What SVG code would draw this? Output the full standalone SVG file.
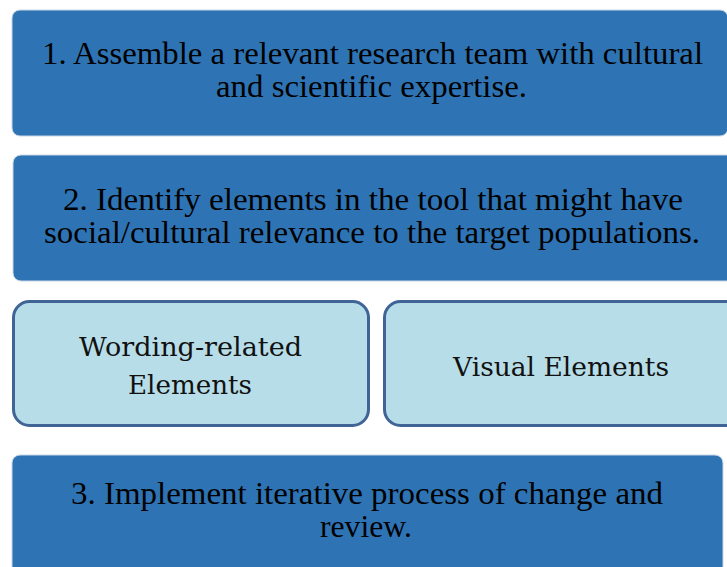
<svg xmlns="http://www.w3.org/2000/svg" width="727" height="567" viewBox="0 0 727 567">
<style>
.dark{fill:#2E74B5;stroke:#C9D6E4;stroke-width:1}
.light{fill:#B7DDE8;stroke:#3F6495;stroke-width:3}
.t1{font-family:"Liberation Serif","Times New Roman",serif;font-size:31px;fill:#000;text-anchor:middle}
.t2{font-family:"DejaVu Serif",serif;font-size:26px;fill:#111;text-anchor:middle}
</style>
<rect width="727" height="567" fill="#fff"/>
<g id="step1">
<rect class="dark" x="12" y="10" width="716" height="126" rx="8"/>
<text class="t1" x="372.5" y="64" textLength="661" lengthAdjust="spacingAndGlyphs">1. Assemble a relevant research team with cultural</text>
<text class="t1" x="371.5" y="97" textLength="311" lengthAdjust="spacingAndGlyphs">and scientific expertise.</text>
</g>
<g id="step2">
<rect class="dark" x="13" y="155" width="730" height="126" rx="8"/>
<text class="t1" x="373" y="210" textLength="620" lengthAdjust="spacingAndGlyphs">2. Identify elements in the tool that might have</text>
<text class="t1" x="372" y="243" textLength="656" lengthAdjust="spacingAndGlyphs">social/cultural relevance to the target populations.</text>
</g>
<g id="wording">
<rect class="light" x="13.5" y="301.5" width="355" height="124" rx="16"/>
<text class="t2" x="190.5" y="356" textLength="223" lengthAdjust="spacingAndGlyphs">Wording-related</text>
<text class="t2" x="190" y="394" textLength="124" lengthAdjust="spacingAndGlyphs">Elements</text>
</g>
<g id="visual">
<rect class="light" x="384.5" y="301.5" width="360" height="124" rx="16"/>
<text class="t2" x="561" y="376" textLength="216" lengthAdjust="spacingAndGlyphs">Visual Elements</text>
</g>
<g id="step3">
<rect class="dark" x="12" y="455" width="711" height="130" rx="8"/>
<text class="t1" x="367" y="504" textLength="592" lengthAdjust="spacingAndGlyphs">3. Implement iterative process of change and</text>
<text class="t1" x="366" y="537" textLength="92" lengthAdjust="spacingAndGlyphs">review.</text>
</g>
<g id="connectors"></g>
</svg>
